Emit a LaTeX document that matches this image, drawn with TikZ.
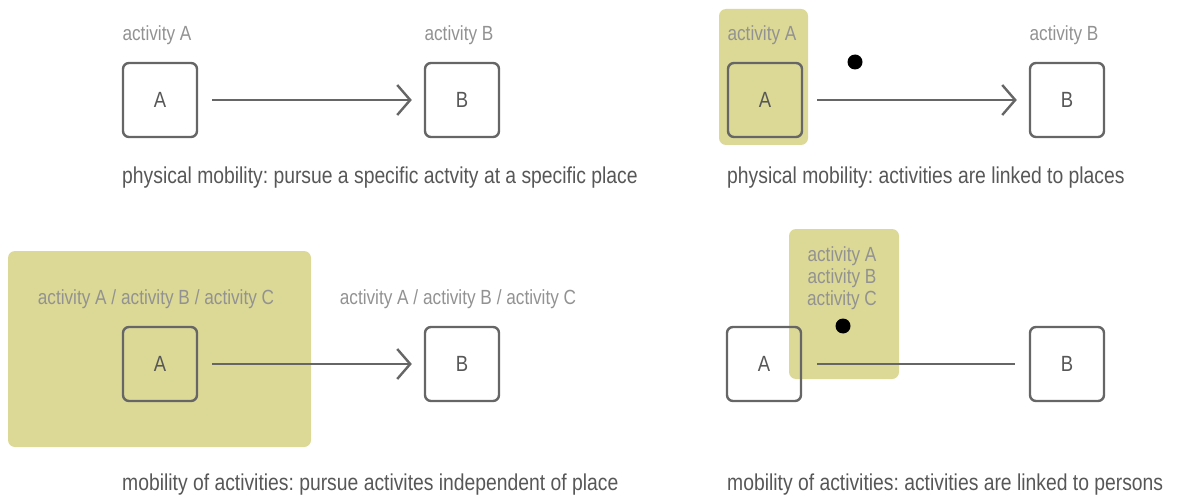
\documentclass[tikz,border=0pt]{standalone}
\usepackage{fontspec}
\setmainfont{Liberation Sans}[FakeStretch=0.84]
\usetikzlibrary{arrows.meta}
\definecolor{boxgray}{HTML}{666666}
\definecolor{textgray}{HTML}{575757}
\definecolor{labelgray}{HTML}{929292}
\definecolor{olive}{HTML}{DCD996}
\frenchspacing
\tikzset{
  actbox/.style={draw=boxgray, line width=2.4pt, rounded corners=6pt,
    minimum size=74pt, inner sep=0pt, text=textgray, font=\fontsize{22}{22}\selectfont},
  actlabel/.style={text=labelgray, font=\fontsize{20.5}{22}\selectfont, inner sep=0pt, align=center},
  caption/.style={text=textgray, font=\fontsize{23}{24}\selectfont, anchor=west, inner sep=0pt},
  zone/.style={fill=olive, rounded corners=7pt},
  link/.style={draw=boxgray, line width=2.4pt},
  movearrow/.style={link, -{Straight Barb[length=13pt, width=30pt]}},
  person/.style={circle, fill=black, minimum size=15pt, inner sep=0pt}
}
\begin{document}
\begin{tikzpicture}[x=1pt, y=-1pt]
\useasboundingbox (0,0) rectangle (1177,497);

% ---- physical mobility: specific activity at a specific place
\node[actbox] (a1) at (160,100) {A};
\node[actbox] (b1) at (462,100) {B};
\node[actlabel] (la1) at (157,35) {activity A};
\node[actlabel] (lb1) at (459,35) {activity B};
\draw[movearrow, shorten <=14pt, shorten >=12pt] (a1.east) -- (b1.west);
\node[caption] (c1) at (122,178) {physical mobility: pursue a specific actvity at a specific place};

% ---- physical mobility: activities linked to places
\fill[zone] (719,9) rectangle (808,145);
\node[actbox] (a2) at (765,100) {A};
\node[actbox] (b2) at (1067,100) {B};
\node[actlabel] (la2) at (762,35) {activity A};
\node[actlabel] (lb2) at (1064,35) {activity B};
\node[person] (p2) at (855,62) {};
\draw[movearrow, shorten <=14pt, shorten >=12pt] (a2.east) -- (b2.west);
\node[caption] (c2) at (727,178) {physical mobility: activities are linked to places};

% ---- mobility of activities: independent of place
\fill[zone] (8,251) rectangle (311,447);
\node[actbox] (a3) at (160,364) {A};
\node[actbox] (b3) at (462,364) {B};
\node[actlabel] (la3) at (156,299) {activity A / activity B / activity C};
\node[actlabel] (lb3) at (458,299) {activity A / activity B / activity C};
\draw[movearrow, shorten <=14pt, shorten >=12pt] (a3.east) -- (b3.west);
\node[caption] (c3) at (122,485) {mobility of activities: pursue activites independent of place};

% ---- mobility of activities: linked to persons
\fill[zone] (789,229) rectangle (899,379);
\node[actbox] (a4) at (764,364) {A};
\node[actbox] (b4) at (1067,364) {B};
\node[actlabel] (la4) at (842,278) {activity A\\activity B\\activity C};
\node[person] (p4) at (843,326) {};
\draw[link, shorten <=15pt, shorten >=14pt] (a4.east) -- (b4.west);
\node[caption] (c4) at (727,485) {mobility of activities: activities are linked to persons};
\end{tikzpicture}
\end{document}
